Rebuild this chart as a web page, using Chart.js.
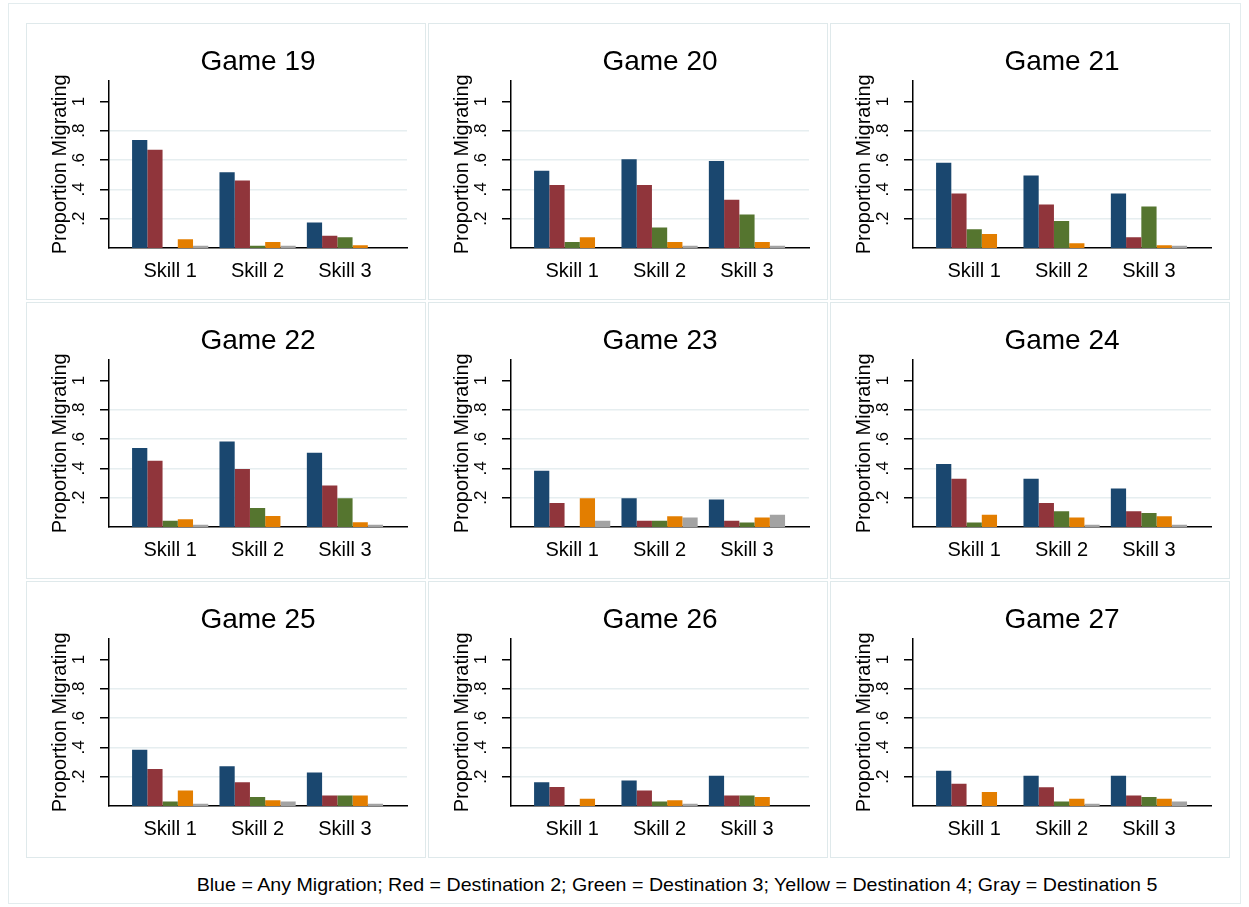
<!DOCTYPE html>
<html>
<head>
<meta charset="utf-8">
<script src="https://cdn.jsdelivr.net/npm/chart.js@4.4.0/dist/chart.umd.min.js"></script>
<style>
  html, body { margin: 0; padding: 0; background: #fff; }
  #page { position: relative; width: 1249px; height: 907px; overflow: hidden; }
  #frame { position: absolute; left: 8px; top: 3px; width: 1233px; height: 901px; border: 1px solid #e3ecee; box-sizing: border-box; }
  .panel { position: absolute; width: 400px; height: 277px; }
  .panel canvas { position: absolute; left: 0; top: 0; }
  .panel .box { position: absolute; left: 0; top: 0; width: 400px; height: 277px; border: 1.5px solid #dfe9eb; box-sizing: border-box; pointer-events: none; }
  #note { position: absolute; left: 177px; top: 874px; width: 1000px; text-align: center; white-space: nowrap; }
  #note span { display: inline-block; font: 19px 'Liberation Sans Narrow', 'Liberation Sans', Arial, sans-serif; color: #000; transform-origin: center; }
</style>
</head>
<body>
<div id="page">
  <div id="frame"></div>
  <div id="note"><span id="noteText">Blue = Any Migration; Red = Destination 2; Green = Destination 3; Yellow = Destination 4; Gray = Destination 5</span></div>
</div>
<script>
// Chart data
const games = ['Game 19', 'Game 20', 'Game 21', 'Game 22', 'Game 23', 'Game 24', 'Game 25', 'Game 26', 'Game 27'];
const skills = ['Skill 1', 'Skill 2', 'Skill 3'];
const seriesNames = ['Any Migration', 'Destination 2', 'Destination 3', 'Destination 4', 'Destination 5'];
const seriesColors = ['#1a476f', '#90353b', '#55752f', '#e37e00', '#a3a3a3'];
const yTicks = [0.2, 0.4, 0.6, 0.8, 1];
const yTickLabels = ['.2', '.4', '.6', '.8', '1'];

// one row per game, values for Skill 1..3
const anyMigration = [
    [0.737, 0.516, 0.174],
    [0.527, 0.605, 0.594],
    [0.582, 0.495, 0.372],
    [0.539, 0.584, 0.507],
    [0.384, 0.196, 0.187],
    [0.429, 0.329, 0.263],
    [0.384, 0.272, 0.229],
    [0.162, 0.174, 0.206],
    [0.240, 0.206, 0.206]
];
const destination2 = [
    [0.671, 0.461, 0.084],
    [0.429, 0.429, 0.329],
    [0.372, 0.297, 0.073],
    [0.452, 0.395, 0.283],
    [0.164, 0.043, 0.043],
    [0.329, 0.164, 0.107],
    [0.252, 0.162, 0.071],
    [0.130, 0.105, 0.071],
    [0.151, 0.128, 0.071]
];
const destination3 = [
    [0.000, 0.016, 0.073],
    [0.041, 0.139, 0.228],
    [0.128, 0.185, 0.283],
    [0.043, 0.130, 0.196],
    [0.000, 0.043, 0.030],
    [0.030, 0.107, 0.096],
    [0.030, 0.062, 0.071],
    [0.000, 0.030, 0.071],
    [0.000, 0.030, 0.062]
];
const destination4 = [
    [0.059, 0.041, 0.018],
    [0.073, 0.041, 0.041],
    [0.096, 0.032, 0.018],
    [0.053, 0.075, 0.032],
    [0.196, 0.073, 0.064],
    [0.084, 0.064, 0.073],
    [0.105, 0.039, 0.071],
    [0.050, 0.039, 0.062],
    [0.096, 0.050, 0.050]
];
const destination5 = [
    [0.016, 0.016, 0.000],
    [0.000, 0.016, 0.016],
    [0.000, 0.000, 0.016],
    [0.016, 0.000, 0.016],
    [0.043, 0.064, 0.084],
    [0.000, 0.016, 0.016],
    [0.016, 0.030, 0.016],
    [0.000, 0.016, 0.000],
    [0.000, 0.016, 0.030]
];
const allSeries = [anyMigration, destination2, destination3, destination4, destination5];

// Panel placement
const colLeft = [26, 428, 830];
const rowTop = [23, 302, 581];
const fontFamily = "'Liberation Sans', Arial, sans-serif";
const gridColor = '#e6eef0';

const createPanel = (g) => {
    const panel = document.createElement('div');
    panel.className = 'panel';
    panel.style.left = colLeft[g % 3] + 'px';
    panel.style.top = rowTop[Math.floor(g / 3)] + 'px';
    const canvas = document.createElement('canvas');
    canvas.width = 400;
    canvas.height = 277;
    panel.appendChild(canvas);
    const box = document.createElement('div');
    box.className = 'box';
    panel.appendChild(box);
    document.getElementById('page').appendChild(panel);

    new Chart(canvas.getContext('2d'), {
        type: 'bar',
        data: {
            datasets: allSeries.map((s, k) => ({
                label: seriesNames[k],
                data: s[g].map((v, i) => ({ x: i + 1, y: v })),
                backgroundColor: seriesColors[k],
                borderWidth: 0
            }))
        },
        options: {
            responsive: false,
            animation: false,
            datasets: { bar: { categoryPercentage: 0.872, barPercentage: 1 } },
            layout: { padding: { left: 0, right: 19, top: 0, bottom: 0 } },
            plugins: {
                legend: { display: false },
                tooltip: { enabled: false },
                title: {
                    display: true,
                    text: games[g],
                    fullSize: false,
                    color: '#000',
                    font: { family: fontFamily, size: 28, weight: 'normal' },
                    padding: { top: 22, bottom: 2 }
                }
            },
            scales: {
                x: {
                    type: 'linear',
                    min: 0.3,
                    max: 3.71,
                    offset: false,
                    bounds: 'data',
                    grid: { display: false, drawTicks: false, offset: false },
                    border: { display: true, color: '#000', width: 1.5 },
                    ticks: {
                        padding: 11,
                        color: '#000',
                        font: { family: fontFamily, size: 20 },
                        callback: (v, i) => skills[i]
                    },
                    // one tick per skill group
                    afterBuildTicks: (scale) => {
                        scale.ticks = skills.map((_, i) => ({ value: i + 1 }));
                    },
                    afterFit: (scale) => { scale.height = 52; }
                },
                y: {
                    min: 0,
                    max: 1.142,
                    grid: {
                        color: (ctx) => (ctx.tick && ctx.tick.value < 0.99) ? gridColor : 'rgba(0,0,0,0)',
                        tickColor: '#000',
                        tickLength: 9,
                        lineWidth: 1.5,
                        tickWidth: 1.5
                    },
                    border: { display: true, color: '#000', width: 1.5 },
                    ticks: {
                        minRotation: 90,
                        maxRotation: 90,
                        crossAlign: 'center',
                        padding: 14,
                        color: '#000',
                        font: { family: fontFamily, size: 17 },
                        callback: (v, i) => yTickLabels[i]
                    },
                    title: {
                        display: true,
                        text: 'Proportion Migrating',
                        color: '#000',
                        font: { family: fontFamily, size: 20 },
                        padding: { top: 22, bottom: 0 }
                    },
                    afterBuildTicks: (scale) => {
                        scale.ticks = yTicks.map(v => ({ value: v }));
                    },
                    afterFit: (scale) => { scale.width = 83; }
                }
            }
        }
    });
};

for (let g = 0; g < games.length; g++) createPanel(g);

// stretch the note to the width it has in the figure
const note = document.getElementById('noteText');
const w = note.getBoundingClientRect().width;
note.style.transform = 'scaleX(' + (961 / w).toFixed(3) + ')';
</script>
</body>
</html>
